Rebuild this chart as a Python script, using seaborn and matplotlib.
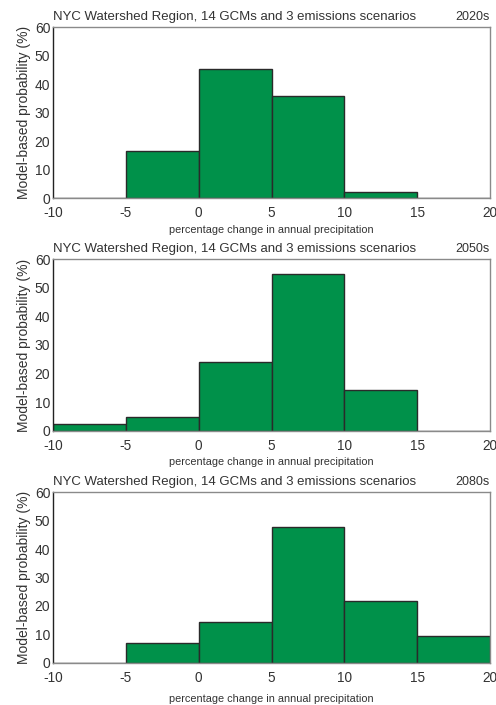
import numpy as np
import pandas as pd
import matplotlib
matplotlib.use("Agg")
import matplotlib.pyplot as plt
import seaborn as sns

sns.set_style("white")
plt.rcParams['font.family'] = ['Liberation Sans', 'DejaVu Sans']
plt.rcParams['axes.unicode_minus'] = False

bin_edges = [-10, -5, 0, 5, 10, 15, 20]
bin_centers = [-7.5, -2.5, 2.5, 7.5, 12.5, 17.5]
prob_2020s = [0.0, 16.6, 45.4, 35.7, 2.0, 0.0]
prob_2050s = [2.6, 4.7, 23.9, 54.6, 14.4, 0.0]
prob_2080s = [0.0, 7.1, 14.3, 47.8, 21.7, 9.4]
periods = ["2020s", "2050s", "2080s"]
title = "NYC Watershed Region, 14 GCMs and 3 emissions scenarios"
xlabel = "percentage change in annual precipitation"
ylabel = "Model-based probability (%)"
xticks = [-10, -5, 0, 5, 10, 15, 20]
yticks = [0, 10, 20, 30, 40, 50, 60]

green = "#00914a"
fig = plt.figure(figsize=(4.96, 7.05), dpi=100)
positions = [
    [0.107, 0.7191, 0.881, 0.2426],
    [0.107, 0.3887, 0.881, 0.2439],
    [0.107, 0.0596, 0.881, 0.2425],
]
xlabelpads = [3, 3, 6.5]
for pos, period, vals, lp in zip(positions, periods,
                                 [prob_2020s, prob_2050s, prob_2080s], xlabelpads):
    ax = fig.add_axes(pos)
    df = pd.DataFrame({"x": bin_centers, "w": vals})
    sns.histplot(data=df, x="x", weights="w", bins=bin_edges, ax=ax,
                 color=green, alpha=1.0, edgecolor="#2a2a2a", linewidth=1.0)
    ax.set_xlim(-10, 20)
    ax.set_ylim(0, 60)
    ax.set_xticks(xticks)
    ax.set_yticks(yticks)
    ax.tick_params(axis="y", direction="in", length=4, width=0.8, color="#222222",
                   labelsize=10, pad=2, labelcolor="#333333")
    ax.tick_params(axis="x", direction="in", length=0, labelsize=9.8, pad=6,
                   labelcolor="#333333")
    for s in ["top", "right", "bottom"]:
        ax.spines[s].set_color("#8a8a8a")
        ax.spines[s].set_linewidth(1.0)
    ax.spines["left"].set_color("#222222")
    ax.spines["left"].set_linewidth(1.0)
    ax.set_xlabel(xlabel, fontsize=7.8, color="#333333", labelpad=lp)
    ax.set_ylabel(ylabel, fontsize=10, color="#333333", labelpad=3)
    ax.text(0.0, 1.025, title, transform=ax.transAxes, ha="left", va="bottom",
            fontsize=9.5, color="#333333")
    ax.text(1.0, 1.025, period, transform=ax.transAxes, ha="right", va="bottom",
            fontsize=9, color="#333333")

fig.savefig("out.png", dpi=100)
